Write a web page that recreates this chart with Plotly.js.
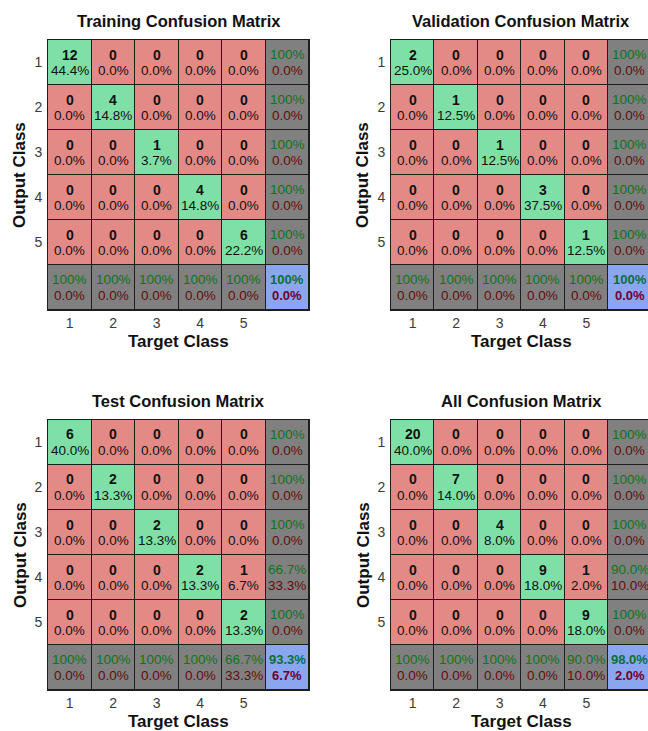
<!DOCTYPE html>
<html>
<head>
<meta charset="utf-8">
<script src="https://cdn.plot.ly/plotly-3.0.1.min.js"></script>
<style>
  html, body { margin: 0; padding: 0; background: #ffffff; }
  #chart { width: 648px; height: 731px; }
</style>
</head>
<body>
<div id="chart"></div>
<script>
// ---- data (rows = Output Class, columns = Target Class) ----
const classLabels = ['1', '2', '3', '4', '5'];
const matrixTitles = ['Training Confusion Matrix', 'Validation Confusion Matrix', 'Test Confusion Matrix', 'All Confusion Matrix'];
const trainingCounts = [
  [12, 0, 0, 0, 0],
  [0, 4, 0, 0, 0],
  [0, 0, 1, 0, 0],
  [0, 0, 0, 4, 0],
  [0, 0, 0, 0, 6]
];
const validationCounts = [
  [2, 0, 0, 0, 0],
  [0, 1, 0, 0, 0],
  [0, 0, 1, 0, 0],
  [0, 0, 0, 3, 0],
  [0, 0, 0, 0, 1]
];
const testCounts = [
  [6, 0, 0, 0, 0],
  [0, 2, 0, 0, 0],
  [0, 0, 2, 0, 0],
  [0, 0, 0, 2, 1],
  [0, 0, 0, 0, 2]
];
const allCounts = [
  [20, 0, 0, 0, 0],
  [0, 7, 0, 0, 0],
  [0, 0, 4, 0, 0],
  [0, 0, 0, 9, 1],
  [0, 0, 0, 0, 9]
];
const countSets = [trainingCounts, validationCounts, testCounts, allCounts];

// ---- styling ----
const FONT = 'Liberation Sans, Arial, Helvetica, sans-serif';
const C_RED = '#e48a86', C_GREEN = '#7ee0a6', C_GRAY = '#808080', C_BLUE = '#8aa6f0';
const T_GREEN = '#12721a', T_RED = '#640c0c', B_GREEN = '#0c6e3a', B_RED = '#6e0030';
const W = 648, H = 731;
const boxes = [
  {x0: 48, x1: 309, y0: 40, y1: 310},
  {x0: 391, x1: 651.5, y0: 40, y1: 310},
  {x0: 48, x1: 309, y0: 420, y1: 690},
  {x0: 391, x1: 651.5, y0: 420, y1: 690}
];

function pct(v) {
  if (!isFinite(v)) return 'NaN%';
  if (Math.abs(v - 100) < 1e-9) return '100%';
  return v.toFixed(1) + '%';
}

const data = [];
const annotations = [];
const layout = {
  width: W, height: H,
  margin: {l: 0, r: 0, t: 0, b: 0},
  paper_bgcolor: '#ffffff',
  plot_bgcolor: '#1e1e1e',
  showlegend: false,
  annotations: annotations
};

countSets.forEach((M, k) => {
  const n = M.length;
  const total = M.flat().reduce((a, b) => a + b, 0);
  const rowSum = M.map(r => r.reduce((a, b) => a + b, 0));
  const colSum = M[0].map((_, j) => M.reduce((a, r) => a + r[j], 0));
  const diag = M.map((r, i) => r[i]);
  const correct = diag.reduce((a, b) => a + b, 0);

  // colour codes: 0 red, 1 green, 2 gray, 3 blue
  const z = [];
  for (let i = 0; i <= n; i++) {
    const row = [];
    for (let j = 0; j <= n; j++) {
      if (i === n && j === n) row.push(3);
      else if (i === n || j === n) row.push(2);
      else row.push(i === j ? 1 : 0);
    }
    z.push(row);
  }
  const idx = Array.from({length: n + 1}, (_, i) => i + 1);
  const ax = k === 0 ? '' : String(k + 1);
  data.push({
    type: 'heatmap', x: idx, y: idx, z: z,
    zmin: 0, zmax: 3,
    colorscale: [[0, C_RED], [1 / 3, C_GREEN], [2 / 3, C_GRAY], [1, C_BLUE]],
    showscale: false, xgap: 1, ygap: 1, hoverinfo: 'skip',
    xaxis: 'x' + ax, yaxis: 'y' + ax
  });

  const b = boxes[k];
  const cellW = (b.x1 - b.x0) / (n + 1);
  const dx0 = b.x0 / W;
  const dx1 = Math.min(b.x1, W) / W;
  const visibleCells = (Math.min(b.x1, W) - b.x0) / cellW;
  const axisCommon = {
    showgrid: false, zeroline: false, fixedrange: true,
    showline: true, mirror: true, linecolor: '#1e1e1e', linewidth: 1,
    ticks: '', 
    tickvals: [1, 2, 3, 4, 5], ticktext: classLabels,
    tickfont: {family: FONT, size: 14, color: '#3a3a3a'}
  };
  layout['xaxis' + ax] = Object.assign({}, axisCommon, {
    domain: [dx0, dx1], range: [0.5, 0.5 + visibleCells], anchor: 'y' + ax
  });
  layout['yaxis' + ax] = Object.assign({}, axisCommon, {
    domain: [(H - b.y1) / H, (H - b.y0) / H], range: [n + 1.5, 0.5], anchor: 'x' + ax,
    ticklabelstandoff: 2
  });

  const xr = 'x' + ax, yr = 'y' + ax;
  for (let i = 0; i < n; i++) {
    for (let j = 0; j < n; j++) {
      annotations.push({xref: xr, yref: yr, x: j + 1, y: i + 1, yshift: 8, showarrow: false,
        text: '<b>' + M[i][j] + '</b>', font: {family: FONT, size: 14, color: '#111111'}});
      annotations.push({xref: xr, yref: yr, x: j + 1, y: i + 1, yshift: -8, showarrow: false,
        text: pct(100 * M[i][j] / total), font: {family: FONT, size: 13.5, color: '#111111'}});
    }
    // row summary (precision)
    const p = 100 * diag[i] / rowSum[i];
    annotations.push({xref: xr, yref: yr, x: n + 1, y: i + 1, yshift: 8, showarrow: false,
      text: pct(p), font: {family: FONT, size: 13.5, color: T_GREEN}});
    annotations.push({xref: xr, yref: yr, x: n + 1, y: i + 1, yshift: -8, showarrow: false,
      text: pct(100 - p), font: {family: FONT, size: 13.5, color: T_RED}});
  }
  for (let j = 0; j < n; j++) {
    const r = 100 * diag[j] / colSum[j];
    annotations.push({xref: xr, yref: yr, x: j + 1, y: n + 1, yshift: 8, showarrow: false,
      text: pct(r), font: {family: FONT, size: 13.5, color: T_GREEN}});
    annotations.push({xref: xr, yref: yr, x: j + 1, y: n + 1, yshift: -8, showarrow: false,
      text: pct(100 - r), font: {family: FONT, size: 13.5, color: T_RED}});
  }
  const acc = 100 * correct / total;
  annotations.push({xref: xr, yref: yr, x: n + 1, y: n + 1, yshift: 8, showarrow: false,
    text: '<b>' + pct(acc) + '</b>', font: {family: FONT, size: 13, color: B_GREEN}});
  annotations.push({xref: xr, yref: yr, x: n + 1, y: n + 1, yshift: -8, showarrow: false,
    text: '<b>' + pct(100 - acc) + '</b>', font: {family: FONT, size: 13, color: B_RED}});

  // titles and axis titles
  const cx = (b.x0 + b.x1) / 2;
  annotations.push({xref: 'paper', yref: 'paper', x: cx / W, y: (H - (b.y0 - 19)) / H,
    xanchor: 'center', yanchor: 'middle', showarrow: false,
    text: '<b>' + matrixTitles[k] + '</b>', font: {family: FONT, size: 16.5, color: '#111111'}});
  annotations.push({xref: 'paper', yref: 'paper', x: cx / W, y: (H - (b.y1 + 31)) / H,
    xanchor: 'center', yanchor: 'middle', showarrow: false,
    text: '<b>Target Class</b>', font: {family: FONT, size: 17, color: '#111111'}});
  annotations.push({xref: 'paper', yref: 'paper', x: (b.x0 - 28) / W, y: (H - (b.y0 + b.y1) / 2) / H,
    xanchor: 'center', yanchor: 'middle', showarrow: false, textangle: -90,
    text: '<b>Output Class</b>', font: {family: FONT, size: 17, color: '#111111'}});
});

Plotly.newPlot('chart', data, layout, {displayModeBar: false, staticPlot: true});
</script>
</body>
</html>
